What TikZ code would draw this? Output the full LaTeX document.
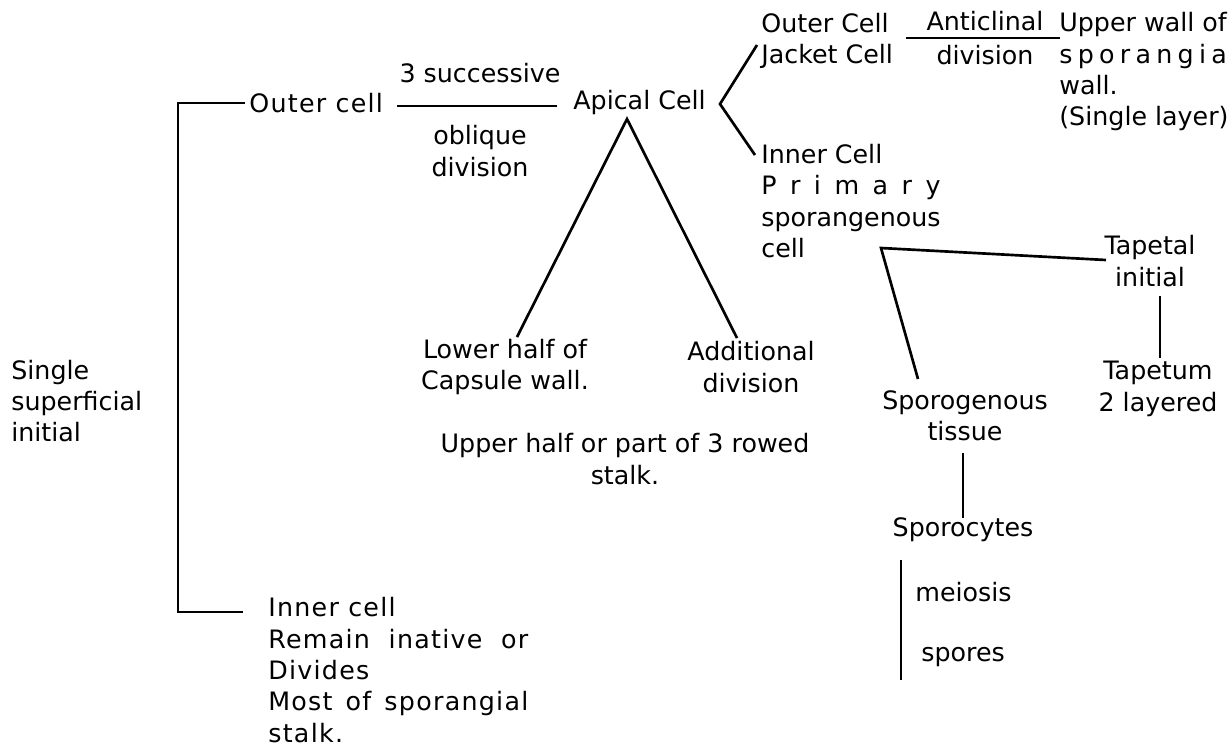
\documentclass[tikz,border=0pt]{standalone}
\usepackage{fontspec}
\setmainfont{DejaVu Sans}
\usepackage{calc}
\begin{document}
\begin{tikzpicture}[x=0.75pt,y=-0.75pt,line width=2pt,
  txt/.style={inner sep=0pt,font=\fontsize{19}{23.5}\selectfont,align=left},
  ctxt/.style={txt,align=center},
  wide/.style={font=\fontsize{19}{23.5}\selectfont\addfontfeature{LetterSpace=5}}]
\useasboundingbox[fill=white] (0,0) rectangle (1232,747);
% text nodes
\node[txt,wide,anchor=west] (outer) at (248,103) {Outer cell};
\node[ctxt] (succ) at (480,73) {3 successive};
\node[ctxt] (obl) at (480,151) {oblique\\division};
\node[txt,anchor=west] (apical) at (572,103) {Apical Cell};
\node[txt,anchor=west] (ocj) at (760,41) {Outer Cell\\Jacket Cell};
\node[ctxt] (anti) at (985,38) {Anticlinal\\[2pt]division};
\node[txt,anchor=west] (upw) at (1058,72) {Upper wall of\\\makebox[\widthof{Upper wall of}][s]{s\hfill p\hfill o\hfill r\hfill a\hfill n\hfill g\hfill i\hfill a}\\wall.\\(Single layer)};
\node[txt,anchor=west] (inner) at (760,201) {Inner Cell\\\makebox[\widthof{sporangenous}][s]{P\hfill r\hfill i\hfill m\hfill a\hfill r\hfill y}\\sporangenous\\cell};
\node[ctxt] (tapetal) at (1150,261) {Tapetal\\initial};
\node[ctxt] (tapetum) at (1158,389) {Tapetum\\2 layered};
\node[ctxt] (sporog) at (965,416) {Sporogenous\\tissue};
\node[ctxt] (sporocytes) at (963,530) {Sporocytes};
\node[txt,anchor=west] (meiosis) at (914,592) {meiosis};
\node[txt,anchor=west] (spores) at (920,657) {spores};
\node[ctxt] (lower) at (505,367) {Lower half of\\Capsule wall.};
\node[ctxt] (addl) at (751,367) {Additional\\division};
\node[ctxt] (upperhalf) at (625,459) {Upper half or part of 3 rowed\\stalk.};
\node[txt,anchor=west] (single) at (10,401) {Single\\superficial\\initial};
\node[txt,wide,anchor=west] (innercell) at (267,670) {Inner cell\\\makebox[195pt][s]{Remain inative or}\\Divides\\\makebox[195pt][s]{Most of sporangial}\\stalk.};
% connector points
\coordinate (lt) at (178,103);
\coordinate (lb) at (178,612);
\coordinate (ob) at (243,612);
\coordinate (ot) at (245,103);
\coordinate (oc1) at (397,106);
\coordinate (oc2) at (557,106);
\coordinate (af) at (720,104);
\coordinate (afu) at (757,45);
\coordinate (afd) at (755,155);
\coordinate (an1) at (906,38);
\coordinate (an2) at (1060,38);
\coordinate (ap) at (627,119);
\coordinate (apl) at (517,337);
\coordinate (apr) at (737,338);
\coordinate (sf) at (881,248);
\coordinate (sft) at (1106,260);
\coordinate (sfs) at (918,379);
\coordinate (tp1) at (1160,296);
\coordinate (tp2) at (1160,358);
\coordinate (sg1) at (963,453);
\coordinate (sg2) at (963,518);
\coordinate (me1) at (901,560);
\coordinate (me2) at (901,680);
% connectors
\draw (ot) -- (lt) -- (lb) -- (ob);
\draw (oc1) -- (oc2);
\draw (afu) -- (af) -- (afd);
\draw (an1) -- (an2);
\draw (apl) -- (ap) -- (apr);
\draw (sft) -- (sf) -- (sfs);
\draw (tp1) -- (tp2);
\draw (sg1) -- (sg2);
\draw (me1) -- (me2);
\end{tikzpicture}
\end{document}
